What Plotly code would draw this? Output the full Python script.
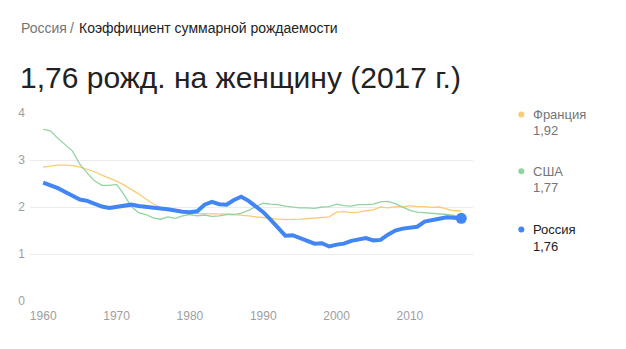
import plotly.graph_objects as go

years = list(range(1960, 2018))
russia = [2.52, 2.47, 2.40, 2.32, 2.23, 2.16, 2.13, 2.07, 2.01, 1.98,
          2.00, 2.03, 2.05, 2.02, 2.01, 1.99, 1.97, 1.95, 1.92, 1.90,
          1.89, 1.91, 2.05, 2.11, 2.06, 2.05, 2.15, 2.22, 2.13, 2.01,
          1.89, 1.73, 1.55, 1.39, 1.40, 1.34, 1.27, 1.22, 1.23, 1.16,
          1.20, 1.22, 1.28, 1.32, 1.34, 1.29, 1.30, 1.41, 1.50, 1.54,
          1.57, 1.58, 1.69, 1.71, 1.75, 1.78, 1.76, 1.76]
usa = [3.65, 3.62, 3.46, 3.32, 3.19, 2.91, 2.72, 2.56, 2.46, 2.46,
       2.48, 2.27, 2.01, 1.88, 1.84, 1.77, 1.74, 1.79, 1.76, 1.81,
       1.84, 1.81, 1.83, 1.80, 1.81, 1.84, 1.84, 1.87, 1.93, 2.01,
       2.08, 2.06, 2.05, 2.02, 2.00, 1.98, 1.98, 1.97, 2.00, 2.01,
       2.06, 2.03, 2.02, 2.05, 2.05, 2.06, 2.11, 2.12, 2.07, 2.00,
       1.93, 1.89, 1.88, 1.86, 1.86, 1.84, 1.82, 1.77]
france = [2.85, 2.87, 2.89, 2.89, 2.88, 2.85, 2.80, 2.75, 2.68, 2.62,
          2.55, 2.47, 2.38, 2.28, 2.17, 2.07, 1.99, 1.94, 1.91, 1.89,
          1.87, 1.86, 1.86, 1.86, 1.86, 1.85, 1.84, 1.83, 1.81, 1.79,
          1.77, 1.76, 1.74, 1.73, 1.73, 1.74, 1.75, 1.76, 1.77, 1.79,
          1.89, 1.90, 1.88, 1.89, 1.92, 1.94, 2.00, 1.98, 2.01, 2.00,
          2.03, 2.01, 2.01, 1.99, 2.00, 1.96, 1.92, 1.92]
legend_names = ["Франция", "США", "Россия"]
legend_values = ["1,92", "1,77", "1,76"]
x_ticks = [1960, 1970, 1980, 1990, 2000, 2010]
y_ticks = [0, 1, 2, 3, 4]
breadcrumb_country = "Россия"
breadcrumb_metric = "Коэффициент суммарной рождаемости"
title_text = "1,76 рожд. на женщину (2017 г.)"

W, H = 626, 349
L, R = 30, 472.7
T, B = 113.3, 301.5

def px(x):
    return (x - L) / (R - L)

def py(y):
    return (B - y) / (B - T)

FONT = "Liberation Sans, Arial, sans-serif"
c_fr = "#fbcb75"
c_us = "#93d3a2"
c_ru = "#4285f4"

fig = go.Figure()
fig.add_trace(go.Scatter(x=years, y=france, mode="lines",
                         line=dict(color=c_fr, width=1.3), hoverinfo="skip"))
fig.add_trace(go.Scatter(x=years, y=usa, mode="lines",
                         line=dict(color=c_us, width=1.3), hoverinfo="skip"))
fig.add_trace(go.Scatter(x=years, y=russia, mode="lines",
                         line=dict(color=c_ru, width=4), hoverinfo="skip"))
fig.add_trace(go.Scatter(x=[years[-1]], y=[russia[-1]], mode="markers",
                         marker=dict(color=c_ru, size=11), cliponaxis=False,
                         hoverinfo="skip"))

fig.update_layout(
    width=W, height=H,
    margin=dict(l=L, r=W - R, t=T, b=H - B, pad=0),
    paper_bgcolor="white", plot_bgcolor="white",
    showlegend=False,
    font=dict(family=FONT),
    xaxis=dict(range=[1958.2, 2018.6], tickvals=x_ticks, showgrid=False,
               zeroline=False, showline=False, ticks="",
               ticklabelstandoff=6,
               tickfont=dict(size=12, color="#9e9e9e")),
    yaxis=dict(range=[0, 4], tickvals=y_ticks, showgrid=True,
               gridcolor="#ebebeb", gridwidth=1, zeroline=False,
               showline=False, ticks="", ticklabelstandoff=4,
               tickfont=dict(size=12, color="#9e9e9e")),
)

ann = []
# breadcrumb
ann.append(dict(xref="paper", yref="paper", x=px(19), y=py(28),
                xanchor="left", yanchor="middle", showarrow=False,
                text=breadcrumb_country,
                font=dict(size=14, color="#757575", family=FONT)))
ann.append(dict(xref="paper", yref="paper", x=px(72), y=py(28),
                xanchor="center", yanchor="middle", showarrow=False,
                text="/", font=dict(size=14, color="#757575", family=FONT)))
ann.append(dict(xref="paper", yref="paper", x=px(77), y=py(28),
                xanchor="left", yanchor="middle", showarrow=False,
                text=breadcrumb_metric,
                font=dict(size=14, color="#222222", family=FONT)))
# title
ann.append(dict(xref="paper", yref="paper", x=px(18), y=py(78),
                xanchor="left", yanchor="middle", showarrow=False,
                text=title_text, font=dict(size=30, color="#222222", family=FONT)))

legend_colors = [c_fr, c_us, c_ru]
legend_text_colors = ["#757575", "#757575", "#222222"]
legend_y = [114.7, 171.7, 230]
shapes = []
for name, val, col, tcol, yy in zip(legend_names, legend_values, legend_colors,
                                    legend_text_colors, legend_y):
    shapes.append(dict(type="circle", xref="paper", yref="paper",
                       x0=px(518), x1=px(524), y0=py(yy + 3), y1=py(yy - 3),
                       fillcolor=col, line=dict(width=0)))
    ann.append(dict(xref="paper", yref="paper", x=px(531), y=py(yy),
                    xanchor="left", yanchor="middle", showarrow=False,
                    text=name, font=dict(size=13, color=tcol, family=FONT)))
    ann.append(dict(xref="paper", yref="paper", x=px(531), y=py(yy + 16.5),
                    xanchor="left", yanchor="middle", showarrow=False,
                    text=val, font=dict(size=13, color=tcol, family=FONT)))

fig.update_layout(annotations=ann, shapes=shapes)
fig.write_html("out.html")
